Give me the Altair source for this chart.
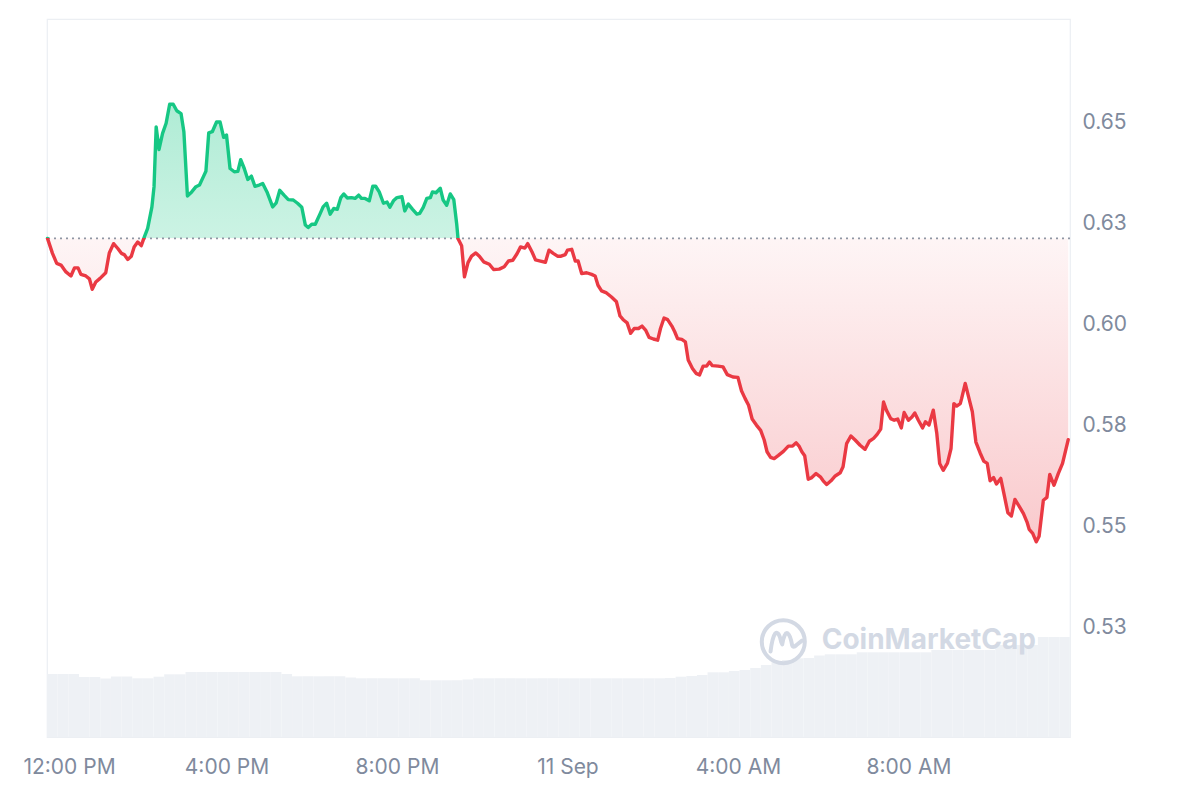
import altair as alt
import pandas as pd

# ---- price series: minutes relative to 12:00 PM (10 Sep) and price in USD ----
minutes = [
    -12, -5, 1, 7, 14, 21, 26, 31, 35, 42,
    47, 51, 56, 62, 70, 75, 81, 87, 92, 96,
    101, 106, 110, 115, 120, 124, 129, 135, 138, 141,
    145, 150, 155, 160, 165, 170, 176, 180, 185, 191,
    197, 202, 207, 211, 215, 220, 226, 231, 236, 240,
    245, 251, 256, 260, 265, 270, 275, 280, 286, 291,
    297, 305, 310, 315, 321, 327, 334, 340, 346, 351,
    355, 360, 365, 372, 376, 381, 386, 391, 396, 401,
    405, 410, 416, 421, 426, 430, 435, 441, 446, 450,
    455, 461, 466, 470, 475, 480, 487, 491, 496, 502,
    508, 512, 517, 522, 527, 530, 535, 541, 545, 550,
    555, 560, 564, 566, 571, 575, 580, 585, 591, 596,
    602, 610, 616, 624, 631, 637, 643, 649, 654, 660,
    664, 670, 675, 682, 689, 694, 700, 706, 711, 717,
    720, 726, 731, 735, 740, 747, 754, 759, 763, 768,
    775, 782, 789, 794, 799, 804, 809, 814, 820, 825,
    830, 835, 841, 847, 851, 856, 861, 867, 871, 875,
    881, 886, 890, 896, 901, 906, 911, 916, 920, 924,
    932, 939, 945, 953, 960, 965, 970, 975, 980, 986,
    992, 997, 1001, 1006, 1011, 1017, 1024, 1031, 1037, 1042,
    1046, 1050, 1054, 1059, 1064, 1070, 1076, 1080, 1085, 1091,
    1097, 1104, 1108, 1113, 1119, 1125, 1132, 1139, 1145, 1151,
    1156, 1161, 1165, 1169, 1175, 1180, 1185, 1190, 1194, 1200,
    1205, 1209, 1214, 1220, 1224, 1229, 1235, 1240, 1244, 1249,
    1255, 1260, 1264, 1268, 1273, 1275, 1280, 1285, 1290, 1295,
    1301, 1306, 1311, 1315, 1320, 1324, 1330, 1335, 1340, 1345,
    1350, 1356, 1362, 1367, 1370, 1375, 1380, 1384, 1390, 1395,
    1399, 1405, 1411, 1417, 1425,
]
price = [
    0.6214, 0.6177, 0.6152, 0.6148, 0.6131, 0.6121, 0.6141, 0.6141, 0.6125, 0.6121,
    0.6114, 0.6088, 0.6106, 0.6115, 0.6129, 0.6178, 0.6201, 0.6189, 0.6177, 0.6174,
    0.6162, 0.6170, 0.6193, 0.6205, 0.6196, 0.6216, 0.6239, 0.6292, 0.6342, 0.6490,
    0.6434, 0.6474, 0.6499, 0.6546, 0.6546, 0.6530, 0.6523, 0.6478, 0.6319, 0.6329,
    0.6342, 0.6346, 0.6365, 0.6380, 0.6475, 0.6478, 0.6502, 0.6502, 0.6464, 0.6470,
    0.6387, 0.6379, 0.6380, 0.6409, 0.6387, 0.6360, 0.6368, 0.6343, 0.6346, 0.6350,
    0.6329, 0.6292, 0.6302, 0.6333, 0.6321, 0.6310, 0.6309, 0.6301, 0.6291, 0.6247,
    0.6241, 0.6249, 0.6249, 0.6276, 0.6292, 0.6301, 0.6274, 0.6288, 0.6286, 0.6315,
    0.6324, 0.6314, 0.6315, 0.6313, 0.6321, 0.6313, 0.6313, 0.6307, 0.6343, 0.6343,
    0.6329, 0.6301, 0.6304, 0.6291, 0.6307, 0.6315, 0.6317, 0.6282, 0.6299, 0.6286,
    0.6274, 0.6276, 0.6291, 0.6313, 0.6315, 0.6329, 0.6327, 0.6338, 0.6309, 0.6296,
    0.6324, 0.6310, 0.6251, 0.6213, 0.6196, 0.6119, 0.6154, 0.6170, 0.6178, 0.6170,
    0.6156, 0.6150, 0.6137, 0.6138, 0.6144, 0.6158, 0.6160, 0.6176, 0.6193, 0.6190,
    0.6201, 0.6181, 0.6161, 0.6158, 0.6155, 0.6185, 0.6177, 0.6170, 0.6170, 0.6174,
    0.6185, 0.6187, 0.6158, 0.6158, 0.6127, 0.6129, 0.6125, 0.6121, 0.6098, 0.6084,
    0.6079, 0.6069, 0.6057, 0.6022, 0.6012, 0.6005, 0.5979, 0.5991, 0.5991, 0.5997,
    0.5987, 0.5969, 0.5965, 0.5962, 0.5991, 0.6017, 0.6013, 0.5997, 0.5983, 0.5966,
    0.5964, 0.5958, 0.5913, 0.5892, 0.5880, 0.5876, 0.5898, 0.5898, 0.5908, 0.5899,
    0.5898, 0.5896, 0.5877, 0.5871, 0.5870, 0.5837, 0.5818, 0.5801, 0.5767, 0.5752,
    0.5739, 0.5715, 0.5686, 0.5672, 0.5669, 0.5677, 0.5687, 0.5700, 0.5700, 0.5708,
    0.5700, 0.5686, 0.5676, 0.5618, 0.5622, 0.5632, 0.5624, 0.5614, 0.5605, 0.5614,
    0.5626, 0.5634, 0.5649, 0.5706, 0.5725, 0.5715, 0.5702, 0.5692, 0.5712, 0.5719,
    0.5729, 0.5742, 0.5809, 0.5789, 0.5768, 0.5764, 0.5767, 0.5745, 0.5783, 0.5764,
    0.5772, 0.5782, 0.5764, 0.5745, 0.5760, 0.5752, 0.5789, 0.5731, 0.5657, 0.5640,
    0.5658, 0.5694, 0.5805, 0.5799, 0.5805, 0.5818, 0.5855, 0.5820, 0.5785, 0.5710,
    0.5683, 0.5663, 0.5657, 0.5614, 0.5622, 0.5606, 0.5620, 0.5578, 0.5535, 0.5527,
    0.5568, 0.5551, 0.5533, 0.5512, 0.5494, 0.5484, 0.5463, 0.5477, 0.5566, 0.5573,
    0.5630, 0.5603, 0.5632, 0.5657, 0.5716,
]

# ---- volume (relative units) per 15-minute slot, starting at the left edge ----
volume_start_minute = -12.7
volume_slot_minutes = 15
volume = [
    63, 63, 63, 60, 60, 58.5, 60.5, 60.5, 58.7, 58.7,
    60.3, 62.7, 62.7, 65, 65, 65, 65, 65, 65, 65,
    65, 65, 63, 60.7, 60.7, 60.7, 60.7, 60.7, 59.5, 58.7,
    58.7, 58.7, 58.7, 58.7, 58.7, 56.7, 56.7, 56.7, 56.7, 57.5,
    58.7, 58.7, 58.7, 58.7, 58.7, 58.7, 58.7, 58.7, 58.7, 58.7,
    58.7, 58.7, 58.7, 58.7, 58.7, 58.7, 58.7, 58.7, 59, 60.3,
    61, 62, 64.7, 64.7, 66, 67, 69, 72, 75, 77,
    78.7, 79, 81.5, 82.7, 82.7, 82.7, 84.7, 84.7, 84.7, 84.7,
    84.7, 84.7, 84.7, 87, 87, 87, 87, 87, 87, 92,
    92, 92, 92, 100, 100, 100,
]

x_tick_minutes = [0, 240, 480, 720, 960, 1200]
x_tick_labels = ["12:00 PM", "4:00 PM", "8:00 PM", "11 Sep", "4:00 AM", "8:00 AM"]
y_tick_values = [0.525, 0.55, 0.575, 0.60, 0.625, 0.65]

assert len(minutes) == len(price)

X_DOMAIN = [-12.7, 1427.5]
Y_DOMAIN = [0.4980, 0.6757]
VOL_DOMAIN = [0, 718]

GREEN = "#16c784"
RED = "#ea3943"
LABEL_COLOR = "#808a9d"
GRID_COLOR = "#eff2f5"
FONT = "Inter"

base = price[0]
pmax, pmin = max(price), min(price)
off = (pmax - base) / (pmax - pmin)

df = pd.DataFrame({"t": minutes, "p": price})
df["base"] = base
vdf = pd.DataFrame({
    "t0": [volume_start_minute + i * volume_slot_minutes for i in range(len(volume))],
    "v": volume,
})
vdf["t1"] = vdf["t0"] + volume_slot_minutes
vdf["v0"] = 0

# label expression for the time axis
expr = "''"
for m, lab in reversed(list(zip(x_tick_minutes, x_tick_labels))):
    expr = f"datum.value == {m} ? '{lab}' : ({expr})"

xscale = alt.Scale(domain=X_DOMAIN, nice=False, zero=False)
yscale = alt.Scale(domain=Y_DOMAIN, nice=False, zero=False)

x_axis = alt.Axis(
    values=x_tick_minutes, labelExpr=expr, grid=False, domain=False, ticks=False,
    labelPadding=19, labelFontSize=21, labelColor=LABEL_COLOR, labelFont=FONT,
    title=None, labelFlush=False, labelOverlap=False,
    labelOffset={"condition": {"test": "datum.value == 0", "value": 13}, "value": 0},
)
y_axis = alt.Axis(
    orient="right", values=y_tick_values,
    labelExpr="format(datum.value + 0.000001, '.2f')",
    domain=False, ticks=False, labelPadding=12, labelFontSize=21,
    labelColor=LABEL_COLOR, labelFont=FONT, gridColor=GRID_COLOR, gridWidth=1.2,
    title=None,
)

vol_layer = alt.Chart(vdf).mark_rect(color="#eef1f5").encode(
    x=alt.X("t0:Q", scale=xscale, axis=x_axis),
    x2="t1:Q",
    y=alt.Y("v:Q", scale=alt.Scale(domain=VOL_DOMAIN), axis=None),
    y2="v0:Q",
)

area_grad = alt.LinearGradient(
    gradient="linear", x1=0, x2=0, y1=0, y2=1,
    stops=[
        alt.GradientStop(offset=0, color="rgba(22,199,132,0.34)"),
        alt.GradientStop(offset=off, color="rgba(22,199,132,0.22)"),
        alt.GradientStop(offset=off, color="rgba(234,57,67,0.05)"),
        alt.GradientStop(offset=1, color="rgba(234,57,67,0.27)"),
    ],
)
line_grad = alt.LinearGradient(
    gradient="linear", x1=0, x2=0, y1=0, y2=1,
    stops=[
        alt.GradientStop(offset=0, color=GREEN),
        alt.GradientStop(offset=off, color=GREEN),
        alt.GradientStop(offset=off, color=RED),
        alt.GradientStop(offset=1, color=RED),
    ],
)

area_layer = alt.Chart(df).mark_area(fill=area_grad, interpolate="linear").encode(
    x=alt.X("t:Q", scale=xscale, axis=x_axis),
    y=alt.Y("p:Q", scale=yscale, axis=y_axis),
    y2="base:Q",
)

rule_layer = alt.Chart(pd.DataFrame({"base": [base]})).mark_rule(
    color="#8f96a3", strokeDash=[2, 4], strokeWidth=1.6
).encode(y=alt.Y("base:Q", scale=yscale, axis=None))

line_layer = alt.Chart(df).mark_line(
    stroke=line_grad, strokeWidth=3.4, strokeJoin="round", strokeCap="round"
).encode(
    x=alt.X("t:Q", scale=xscale, axis=x_axis),
    y=alt.Y("p:Q", scale=yscale, axis=None),
)

# watermark
wm = pd.DataFrame({"name": ["CoinMarketCap"]})
logo_ring = alt.Chart(wm).mark_point(
    shape="circle", size=1850, filled=False, stroke="#d3d9e4", strokeWidth=4, opacity=1
).encode(x=alt.value(736.3), y=alt.value(622.7))
logo_m = alt.Chart(wm).mark_point(
    shape="M-0.58,0.45 Q-0.5,-0.2 -0.36,-0.38 Q-0.2,-0.5 -0.1,0.0 L-0.05,0.12 Q0.05,-0.45 0.2,-0.38 Q0.32,-0.3 0.4,0.15 Q0.45,0.3 0.6,0.15 L0.85,-0.05",
    size=1936, filled=False, stroke="#d3d9e4", strokeWidth=4, strokeJoin="round", strokeCap="round",
    opacity=1,
).encode(x=alt.value(736.3), y=alt.value(622.7))
wm_text = alt.Chart(wm).mark_text(
    align="left", baseline="middle", font=FONT, fontSize=28, fontWeight=700, color="#d3d9e4"
).encode(text="name:N", x=alt.value(774.7), y=alt.value(622))

chart = alt.layer(
    vol_layer, area_layer, rule_layer, line_layer, logo_ring, logo_m, wm_text
).resolve_scale(y="independent").properties(
    width=1023, height=718,
    padding={"left": 39, "top": 11, "right": 120, "bottom": 55},
    autosize=alt.AutoSizeParams(type="none"),
    background="white",
).configure_view(stroke="#eceff3", strokeWidth=1.2)

chart.save("out.html", embed_options={"renderer": "svg", "actions": False})
